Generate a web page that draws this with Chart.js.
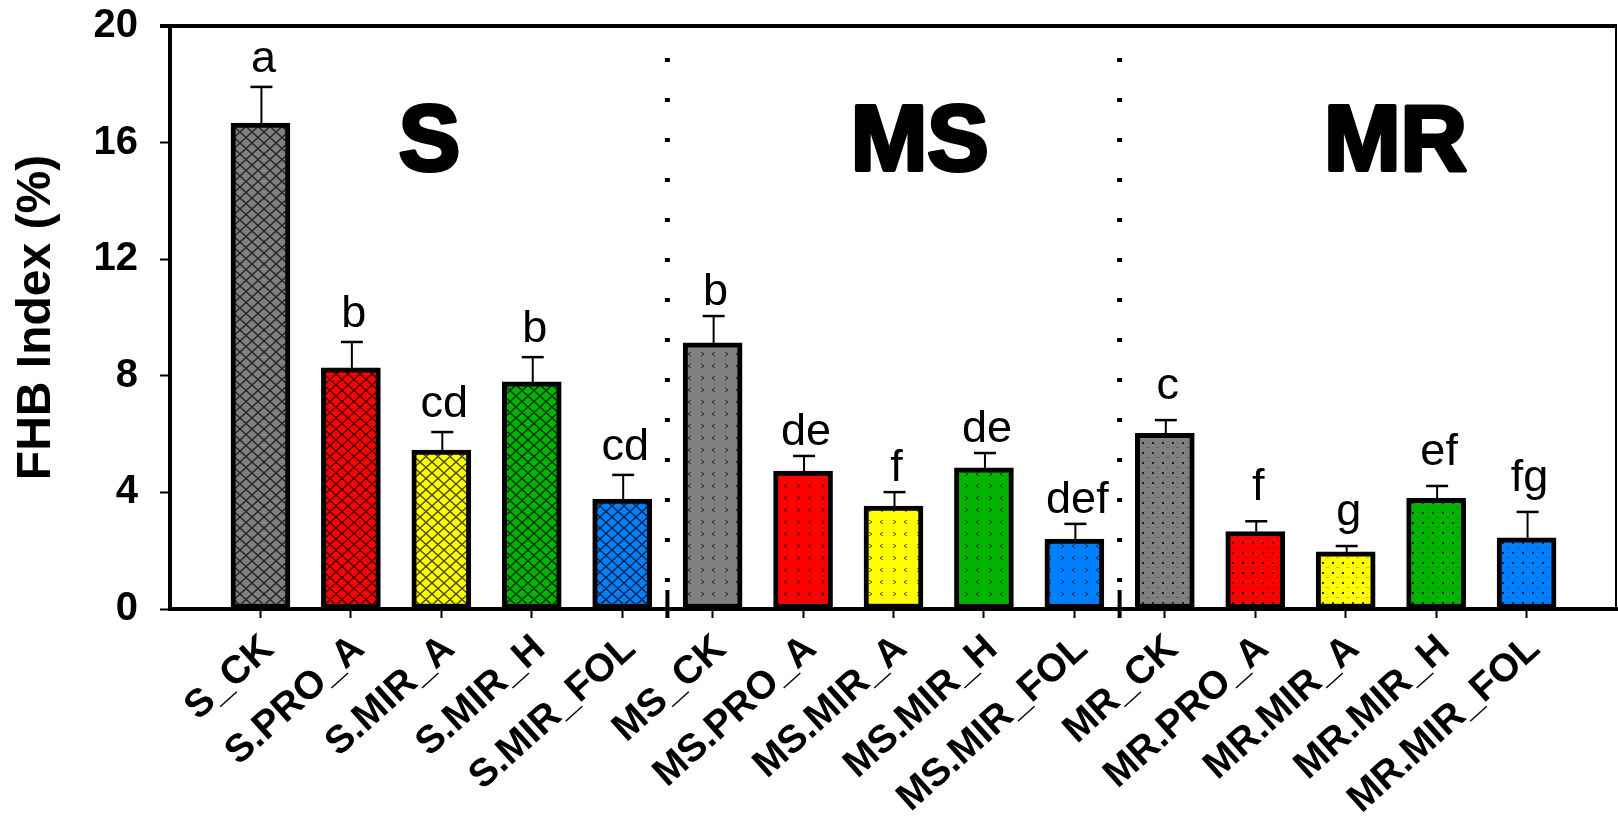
<!DOCTYPE html>
<html><head><meta charset="utf-8">
<script src="https://cdn.jsdelivr.net/npm/chart.js@4.4.1/dist/chart.umd.min.js"></script>
<style>html,body{margin:0;padding:0;background:#fff;overflow:hidden}</style>
</head><body>
<canvas id="c" width="1618" height="819" style="width:1618px;height:819px;display:block"></canvas>
<script>
// ---------- data ----------
const categories = ['S_CK','S.PRO_A','S.MIR_A','S.MIR_H','S.MIR_FOL',
                    'MS_CK','MS.PRO_A','MS.MIR_A','MS.MIR_H','MS.MIR_FOL',
                    'MR_CK','MR.PRO_A','MR.MIR_A','MR.MIR_H','MR.MIR_FOL'];
const fhbMeans  = [16.67, 8.27, 5.45, 7.79, 3.77, 9.13, 4.73, 3.53, 4.84, 2.40, 6.03, 2.66, 1.96, 3.80, 2.44];
const fhbErrors = [1.24, 0.89, 0.62, 0.85, 0.83, 0.92, 0.52, 0.48, 0.51, 0.52, 0.45, 0.35, 0.20, 0.42, 0.89];
const letters   = ['a','b','cd','b','cd','b','de','f','de','def','c','f','g','ef','fg'];
const groupNames = ['S','MS','MR'];
const groupOf    = [0,0,0,0,0,1,1,1,1,1,2,2,2,2,2];
const yTicks     = [0,4,8,12,16,20];

// ---------- styles ----------
const FONT = '"Liberation Sans", Arial, sans-serif';
const treatmentColors = ['#808080','#ff0000','#ffff00','#00b400','#0080ff'];
const groupPatternKind = ['hatch','chevron','dots'];
const letterGap = [15, 11, 21];
const groupLabelX = [2.87, 8.29, 13.55];
const groupLabelY = 15.06;

function makePattern(color, kind) {
  const c = document.createElement('canvas');
  const g = c.getContext('2d');
  if (kind === 'hatch') {
    c.width = 12; c.height = 11;
    g.fillStyle = color; g.fillRect(0,0,12,11);
    g.strokeStyle = 'rgba(0,0,0,0.7)'; g.lineWidth = 1.4;
    g.beginPath(); g.moveTo(0,0); g.lineTo(12,11); g.moveTo(12,0); g.lineTo(0,11); g.stroke();
  } else if (kind === 'chevron') {
    c.width = 24; c.height = 12;
    g.fillStyle = color; g.fillRect(0,0,24,12);
    g.strokeStyle = 'rgba(0,0,0,0.65)'; g.lineWidth = 1;
    g.beginPath(); g.moveTo(5,4); g.lineTo(8,6); g.lineTo(5,8);
    g.moveTo(19,4); g.lineTo(16,6); g.lineTo(19,8); g.stroke();
  } else {
    c.width = 10; c.height = 10;
    g.fillStyle = color; g.fillRect(0,0,10,10);
    g.fillStyle = 'rgba(0,0,0,0.75)'; g.fillRect(2,2,2,2);
    g.fillStyle = 'rgba(0,0,0,0.25)'; g.fillRect(6,7,3,1);
  }
  return g.createPattern(c, 'repeat');
}
const barFills = categories.map((_, i) => makePattern(treatmentColors[i % 5], groupPatternKind[groupOf[i]]));

const decor = {
  id: 'decor',
  afterDatasetsDraw(chart) {
    const {ctx, chartArea: a, scales: {x, y}} = chart;
    ctx.save();
    ctx.strokeStyle = '#000'; ctx.fillStyle = '#000';
    // box top and right
    ctx.lineWidth = 4;
    ctx.beginPath(); ctx.moveTo(a.left - 10, a.top); ctx.lineTo(a.right, a.top); ctx.stroke();
    ctx.lineWidth = 2;
    ctx.beginPath(); ctx.moveTo(a.right - 1, a.top); ctx.lineTo(a.right - 1, a.bottom); ctx.stroke();
    // group separators
    for (let gi = 1; gi < groupNames.length; gi++) {
      const idx = groupOf.indexOf(gi);
      const sx = x.getPixelForValue(idx + 0.5);
      ctx.lineWidth = 5; ctx.setLineDash([4, 36]);
      ctx.beginPath(); ctx.moveTo(sx, a.top + 32); ctx.lineTo(sx, a.bottom - 22); ctx.stroke();
      ctx.setLineDash([]); ctx.lineWidth = 4;
      ctx.beginPath(); ctx.moveTo(sx, a.bottom - 19); ctx.lineTo(sx, a.bottom + 9); ctx.stroke();
    }
    // error bars and letters
    fhbMeans.forEach((m, i) => {
      const px = x.getPixelForValue(i + 1);
      const y0 = y.getPixelForValue(m);
      const y1 = y.getPixelForValue(m + fhbErrors[i]);
      ctx.lineWidth = 2;
      ctx.beginPath(); ctx.moveTo(px + 1, y0); ctx.lineTo(px + 1, y1); ctx.stroke();
      ctx.lineWidth = 2.5;
      ctx.beginPath(); ctx.moveTo(px - 10, y1); ctx.lineTo(px + 12, y1); ctx.stroke();
      ctx.font = '45px ' + FONT;
      ctx.textAlign = 'center'; ctx.textBaseline = 'alphabetic';
      ctx.fillText(letters[i], px + 3, y1 - letterGap[groupOf[i]]);
    });
    // group labels
    ctx.font = 'bold 92px ' + FONT;
    ctx.textAlign = 'center'; ctx.textBaseline = 'alphabetic';
    ctx.lineWidth = 4; ctx.lineJoin = 'round';
    groupNames.forEach((n, gi) => {
      const gx = x.getPixelForValue(groupLabelX[gi]);
      const gy = y.getPixelForValue(groupLabelY);
      ctx.fillText(n, gx, gy);
      ctx.strokeText(n, gx, gy);
    });
    ctx.restore();
  }
};

new Chart(document.getElementById('c'), {
  type: 'bar',
  data: {
    datasets: [{
      data: categories.map((c, i) => ({x: i + 1, y: fhbMeans[i]})),
      backgroundColor: barFills,
      borderColor: '#000',
      borderWidth: 5,
      borderSkipped: false,
      barThickness: 59
    }]
  },
  options: {
    responsive: false,
    animation: false,
    devicePixelRatio: 1,
    layout: {padding: {top: 26, left: 0, right: 1, bottom: 0}},
    plugins: {legend: {display: false}, tooltip: {enabled: false}},
    scales: {
      x: {
        type: 'linear', min: 0, max: 16, offset: false,
        afterBuildTicks: s => { s.ticks = categories.map((_, i) => ({value: i + 1})); },
        afterFit: s => { s.height = 210; s.paddingLeft = 0; s.paddingRight = 0; },
        ticks: {
          autoSkip: false, minRotation: 42, maxRotation: 42, labelOffset: 8, padding: 8,
          color: '#000', font: {family: FONT, size: 39, weight: 'bold'},
          callback: v => categories[v - 1]
        },
        grid: {drawOnChartArea: false, offset: false, tickLength: 9, tickWidth: 2, tickColor: '#000'},
        border: {display: true, width: 4, color: '#000'}
      },
      y: {
        min: 0, max: 20,
        afterBuildTicks: s => { s.ticks = yTicks.map(v => ({value: v})); },
        afterFit: s => { s.width = 170; s.paddingTop = 0; s.paddingBottom = 0; },
        ticks: {color: '#000', padding: 22, font: {family: FONT, size: 40, weight: 'bold'}},
        grid: {drawOnChartArea: false, tickLength: 10, tickWidth: 2, tickColor: '#000'},
        border: {display: true, width: 4, color: '#000'},
        title: {display: true, text: 'FHB Index (%)', color: '#000',
                font: {family: FONT, size: 48, weight: 'bold'}, padding: {top: 8, bottom: 0}}
      }
    }
  },
  plugins: [decor]
});
</script>
</body></html>
